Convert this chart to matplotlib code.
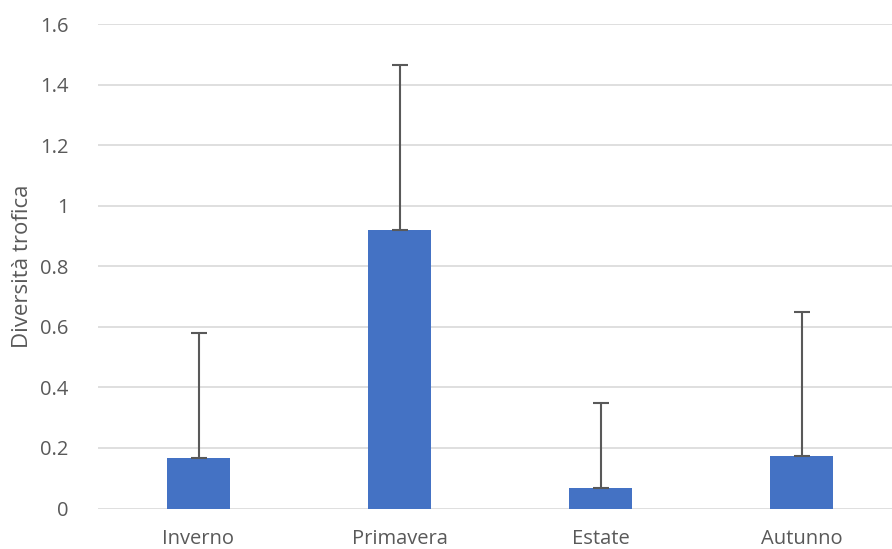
import matplotlib
matplotlib.use("Agg")
import matplotlib.pyplot as plt

categories = ["Inverno", "Primavera", "Estate", "Autunno"]
values = [0.166, 0.92, 0.069, 0.173]
errors_upper = [0.413, 0.543, 0.281, 0.477]
yticks = [0, 0.2, 0.4, 0.6, 0.8, 1.0, 1.2, 1.4, 1.6]
ytick_labels = ["0", "0.2", "0.4", "0.6", "0.8", "1", "1.2", "1.4", "1.6"]

plt.rcParams['font.family'] = ['Open Sans', 'DejaVu Sans']

fig = plt.figure(figsize=(8.92, 5.49), dpi=100)
ax = fig.add_axes([98/892, 40.5/549, 1 - 98/892, (508.5 - 24)/549])

x = list(range(len(categories)))
ax.bar(x, values, width=0.31, color="#4472C4", zorder=2)
ax.errorbar(x, values, yerr=[[0]*len(values), errors_upper], fmt="none",
            ecolor="#595959", elinewidth=1.5, capsize=6, capthick=1.5, zorder=3)

ax.set_xlim(-0.5, -0.5 + 794/201)
ax.set_ylim(0, 1.6)
ax.set_yticks(yticks)
ax.set_yticklabels(ytick_labels)
ax.set_xticks(x)
ax.set_xticklabels(categories)
ax.grid(axis="y", color="#d9d9d9", linewidth=1.2, zorder=0)
ax.set_axisbelow(True)
for s in ax.spines.values():
    s.set_visible(False)
ax.tick_params(axis="both", length=0, labelsize=14.5, colors="#595959")
ax.tick_params(axis="x", pad=15)
ax.tick_params(axis="y", pad=21)
ax.set_ylabel("Diversità trofica", fontsize=16, color="#595959", labelpad=5)

fig.savefig("out.png", dpi=100)
